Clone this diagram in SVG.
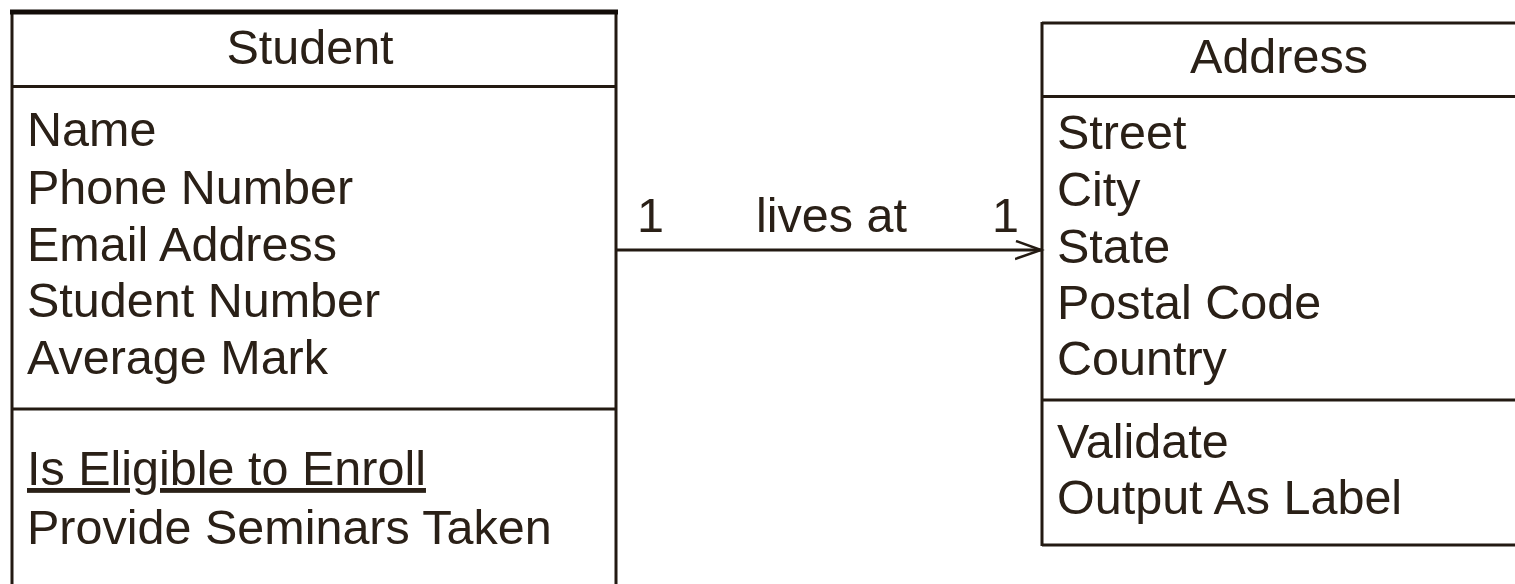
<svg xmlns="http://www.w3.org/2000/svg" width="1515" height="584" viewBox="0 0 1515 584">
<defs>
<style>
text{font-family:"Liberation Sans",Arial,sans-serif;font-size:48.5px;fill:#2a2017}
.ln{stroke:#231a12;stroke-width:3;fill:none}
.mid{text-anchor:middle}
.ul{text-decoration:underline}
</style>
<marker id="open" markerWidth="30" markerHeight="24" refX="26" refY="10" orient="auto" markerUnits="userSpaceOnUse">
<polyline points="1,1 26,10 0,19" fill="none" stroke="#231a12" stroke-width="2.5"/>
</marker>
</defs>
<rect width="1515" height="584" fill="#ffffff"/>
<g id="student">
<path class="ln" d="M12,10 V590 M616,10 V590 M12,86.5 H616 M12,409 H616"/>
<line x1="10" y1="12" x2="618" y2="12" stroke="#120c08" stroke-width="5"/>
<text class="mid" x="310" y="64">Student</text>
<text x="27" y="146">Name</text>
<text x="27" y="204">Phone Number</text>
<text x="27" y="261">Email Address</text>
<text x="27" y="317">Student Number</text>
<text x="27" y="374">Average Mark</text>
<text class="ul" x="27" y="485">Is Eligible to Enroll</text>
<text x="27" y="544">Provide Seminars Taken</text>
</g>
<g id="address">
<path class="ln" d="M1042,23 H1520 M1042,22 V546 M1042,96.5 H1520 M1042,400 H1520 M1042,545 H1520"/>
<text class="mid" x="1279" y="73">Address</text>
<text x="1057" y="149">Street</text>
<text x="1057" y="206">City</text>
<text x="1057" y="263">State</text>
<text x="1057" y="319">Postal Code</text>
<text x="1057" y="375">Country</text>
<text x="1057" y="458">Validate</text>
<text x="1057" y="514">Output As Label</text>
</g>
<g id="connectors">
<line class="ln" x1="616" y1="250" x2="1041" y2="250" marker-end="url(#open)"/>
<text x="637" y="232">1</text>
<text x="756" y="232">lives at</text>
<text x="992" y="232">1</text>
</g>
</svg>
